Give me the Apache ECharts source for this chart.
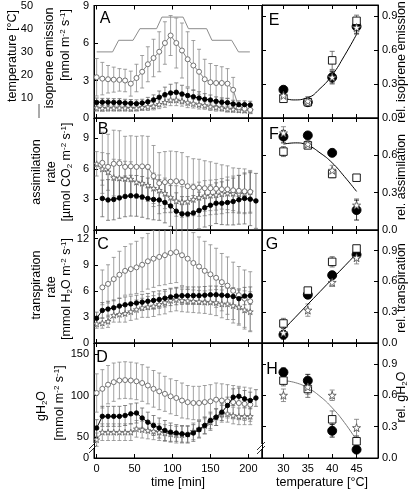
<!DOCTYPE html>
<html><head><meta charset="utf-8">
<script src="https://cdn.jsdelivr.net/npm/echarts@6/dist/echarts.min.js"></script>
<style>html,body{margin:0;padding:0;background:#fff}#c{width:415px;height:491px}</style>
</head><body><div id="c"></div>
<script>
// ---------------- data ----------------
const times = [0,7.5,15,22.5,30,37.5,45,52.5,60,67.5,75,82.5,90,97.5,105,112.5,120,127.5,135,142.5,150,157.5,165,172.5,180,187.5,195,202.5,210];
const timeTicks = [0,50,100,150,200];
// temperature programme (time [min], temperature [°C])
const tempProgram = [[0,30],[21,30],[29,35],[48,35],[57,40],[79,40],[86,45],[114,45],[121,40],[145,40],[152,35],[178,35],[187,30],[202,30]];
const tempTicks = [10,20,30,40,50];

// A: isoprene emission
const openA  = [3.26,3.15,3.1,3.07,3.05,3.0,2.75,3.2,3.7,4.3,4.8,5.3,6.0,6.6,6.0,5.4,4.7,4.2,3.7,3.1,2.86,2.8,2.8,2.75,2.25,0.85,0.75,0.65,null];
const openAe = [1.5,1.3,1.1,1.0,0.9,0.9,1.0,1.1,1.3,1.4,1.5,1.6,1.7,1.6,2.0,2.2,2.2,2.0,1.8,1.6,1.5,1.4,1.3,1.2,1.0,0.3,0.3,0.3,null];
const fillA  = [1.25,1.27,1.27,1.25,1.25,1.2,1.18,1.15,1.2,1.3,1.45,1.66,1.87,2.0,2.06,1.92,1.8,1.7,1.6,1.5,1.44,1.34,1.26,1.23,1.12,1.07,1.07,1.04,null];
const fillAe = [0.35,0.3,0.3,0.3,0.3,0.3,0.3,0.3,0.3,0.35,0.4,0.5,0.6,0.7,0.75,0.7,0.6,0.55,0.5,0.45,0.4,0.35,0.35,0.35,0.3,0.3,0.3,0.3,null];
const starA  = [0.8,0.78,0.8,0.8,0.8,0.8,0.78,0.8,0.85,0.9,0.95,1.1,1.26,1.44,1.44,1.35,1.23,1.15,1.07,1.0,0.9,0.85,0.8,0.72,0.7,0.64,0.62,0.6,null];
const starAe = [0.25,0.25,0.25,0.25,0.25,0.25,0.25,0.25,0.25,0.3,0.3,0.35,0.4,0.45,0.45,0.4,0.4,0.35,0.35,0.3,0.3,0.3,0.25,0.25,0.25,0.2,0.2,0.2,null];
const ticksA = [0,3,6,9];

// B: assimilation
const openB  = [null,6.6,6.2,6.5,6.55,6.2,6.25,6.2,6.25,6.2,5.3,4.6,4.7,4.75,4.8,4.7,4.3,4.2,4.15,4.1,4.1,4.05,4.0,4.0,3.9,3.85,3.8,3.75,null];
const openBe = [null,3.0,3.2,3.3,3.2,3.0,3.0,3.0,3.0,3.0,3.0,3.0,3.0,3.0,2.9,2.9,2.9,2.8,2.8,2.7,2.6,2.5,2.4,2.3,2.2,2.2,2.2,2.1,null];
const fillB  = [null,3.1,2.95,3.0,3.15,3.3,3.37,3.35,3.25,3.1,3.0,2.95,2.7,2.36,1.85,1.58,1.58,1.68,1.92,2.19,2.43,2.63,2.63,2.7,2.8,2.97,3.1,3.03,2.86];
const fillBe = [null,1.8,2.0,2.0,2.0,2.0,2.0,2.0,2.0,2.0,2.0,2.0,2.0,2.0,1.8,1.7,1.7,1.7,1.8,1.9,2.0,2.0,2.1,2.2,2.3,2.4,2.5,2.6,2.7];
const starB  = [6.5,6.0,5.7,5.15,5.1,5.05,5.0,4.7,4.6,4.4,4.1,3.9,3.6,3.2,2.85,2.75,2.8,3.0,3.2,3.35,3.4,3.45,3.55,3.6,3.6,3.55,3.6,3.75,null];
const starBe = [1.2,1.6,1.8,1.8,1.8,1.7,1.7,1.6,1.6,1.6,1.5,1.5,1.5,1.5,1.5,1.5,1.5,1.5,1.5,1.5,1.5,1.5,1.5,1.6,1.7,1.8,1.9,2.0,null];
const ticksB = [0,3,6,9];

// C: transpiration
const openC  = [null,6.4,6.8,7.35,7.85,8.3,8.5,8.7,9.0,9.4,9.7,9.9,10.1,10.35,10.45,10.1,9.7,9.2,8.8,8.3,7.9,7.5,7.0,6.6,6.0,5.5,5.1,4.8,null];
const openCe = [null,2.0,2.2,2.5,2.7,2.8,2.9,3.0,3.1,3.2,3.3,3.3,3.4,3.5,3.5,3.5,3.5,3.5,3.4,3.4,3.4,3.4,3.3,3.3,3.3,3.3,3.3,3.4,null];
const fillC  = [2.85,3.75,3.9,4.05,4.25,4.4,4.5,4.6,4.7,4.8,4.9,5.0,5.15,5.3,5.4,5.45,5.45,5.45,5.45,5.5,5.55,5.55,5.5,5.45,5.35,5.1,5.4,5.45,null];
const fillCe = [0.7,0.9,0.9,0.9,0.9,0.9,0.9,0.9,0.9,0.9,1.0,1.0,1.0,1.0,1.0,1.0,1.0,1.0,1.0,1.0,1.0,1.0,1.0,1.0,1.0,1.0,1.0,1.0,null];
const starC  = [2.2,2.3,2.5,3.2,3.3,3.4,3.6,3.85,4.05,4.15,4.25,4.45,4.65,4.9,5.0,4.9,4.85,4.8,4.75,4.7,4.7,4.65,4.5,4.5,4.3,4.15,3.8,3.6,null];
const starCe = [0.5,0.6,0.7,0.8,0.9,1.0,1.0,1.1,1.1,1.2,1.2,1.2,1.3,1.3,1.3,1.3,1.3,1.3,1.3,1.3,1.4,1.5,1.6,1.8,2.0,2.1,2.2,2.3,null];
const ticksC = [0,3,6,9,12];

// D: stomatal conductance gH2O
const openD  = [103,108,113,116,118,118.5,118,117,115,112,108,105,102,99,97,94,92,91,91,92,93,95,94,93,92,91,90,89,null];
const openDe = [23,23,23,23,22,22,22,22,22,22,22,22,21,21,21,21,20,20,20,20,20,20,20,20,20,20,20,20,null];
const fillD  = [61,75,75,75,75,76,78,79,73,68,64,61,58,56,55,54,53,55,59,64,70,74,80,88,98,99,96,94,97];
const fillDe = [10,12,12,12,12,12,12,12,12,12,12,12,12,11,10,10,10,10,10,10,10,10,10,10,10,10,10,10,10];
const starD  = [47,56,56,56,56,56,56,60,59,58,57,56,55,54,53,53,54,57,60,64,68,74,78,78,76,75,75,75,null];
const starDe = [8,10,10,10,10,10,10,10,10,10,10,10,10,10,10,10,10,10,10,10,10,10,10,10,10,10,10,10,null];
const ticksD = [25,50,100,150];   // 25 is drawn as "0" below the axis break

// E-H: relative values vs. temperature
const temps = [30,35,40,45];
const relTicksX = [30,35,40,45];
const fillE = [0.25,0.14,0.36,0.81], fillEe = [0.03,0.03,0.05,0.06];
const sqE   = [0.17,0.14,0.51,0.86], sqEe   = [0.02,0.03,0.08,0.05];
const starE = [0.2,0.15,0.36,0.8],   starEe = [0.02,0.04,0.06,0.06];
const fitE  = [[30,0.18],[32,0.16],[35,0.18],[37.5,0.26],[40,0.38],[42.5,0.55],[45,0.74]];
const fillF = [0.75,0.76,0.62,0.16], fillFe = [0.05,0.02,0.02,0.08];
const sqF   = [0.63,0.68,0.45,0.42], sqFe   = [0.04,0.02,0.03,0.02];
const starF = [0.78,0.69,0.48,0.2],  starFe = [0.05,0.03,0.04,0.05];
const fitF  = [[30,0.69],[32.5,0.7],[35,0.68],[37.5,0.62],[40,0.54],[42.5,0.43],[45,0.31]];
const fillG = [0.08,0.47,0.66,0.86], fillGe = [0.04,0.03,0.03,0.04];
const sqG   = [0.19,0.51,0.79,0.92], sqGe   = [0.05,0.03,0.05,0.03];
const starG = [0.1,0.32,0.59,0.83],  starGe = [0.04,0.06,0.04,0.06];
const fitG  = [[30,0.13],[45,0.87]];
const fillH = [0.82,0.74,0.26,0.08], fillHe = [0.04,0.06,0.06,0.02];
const sqH   = [0.74,0.66,0.37,0.16], sqHe   = [0.05,0.08,0.08,0.05];
const starH = [0.6,0.68,0.6,0.29],   starHe = [0.06,0.07,0.05,0.08];
const fitH  = [[30,0.74],[32.5,0.72],[35,0.67],[37.5,0.59],[40,0.48],[42.5,0.34],[45,0.17]];
const relTicksE = [0,0.3,0.6,0.9], relTicksF = [0,0.3,0.6], relTicksG = [0,0.3,0.6,0.9], relTicksH = [0,0.3,0.6,0.9];

// ---------------- chart ----------------
const FONT = "'Liberation Sans', Arial, sans-serif";
const STAR = 'path://M0,-10L2.35,-3.24L9.51,-3.09L3.8,1.24L5.88,8.09L0,4L-5.88,8.09L-3.8,1.24L-9.51,-3.09L-2.35,-3.24Z';
const rows = [{top:5,h:113},{top:118,h:112},{top:230,h:113},{top:343,h:115}];
const grid = [];
rows.forEach(r=>grid.push({left:94, top:r.top, width:168, height:r.h, show:true, borderColor:'#000', borderWidth:1, backgroundColor:'transparent'}));
rows.forEach(r=>grid.push({left:262, top:r.top, width:116, height:r.h, show:true, borderColor:'#000', borderWidth:1, backgroundColor:'transparent'}));

const xAxis = [];
for (let g=0; g<8; g++) {
  const left = g<4;
  const ticks = left ? timeTicks : relTicksX;
  ['bottom','top'].forEach(pos=>{
    xAxis.push({type:'value', gridIndex:g, position:pos, min: left?-3.5:25.6, max: left?218:49.4,
      axisLine:{show:true, onZero:false, lineStyle:{color:'#000', width:1}},
      axisTick:{show:true, inside:true, length:4, customValues:ticks, lineStyle:{color:'#000'}},
      axisLabel:{show: pos==='bottom' && (g===3||g===7), customValues:ticks, color:'#000', fontSize:11, margin:5, fontFamily:FONT},
      splitLine:{show:false}});
  });
}
const leftCfg = [[0,9,ticksA],[0,11,ticksB],[0,13,ticksC],[25,163,ticksD]];
const rightCfg = [[0,1.0,relTicksE],[0,0.9,relTicksF],[0,1.1,relTicksG],[0,1.1,relTicksH]];
const yAxis = [];
leftCfg.forEach((c,g)=>yAxis.push({type:'value', gridIndex:g, position:'left', min:c[0], max:c[1],
  axisLine:{show:true, onZero:false, lineStyle:{color:'#000'}},
  axisTick:{show:true, inside:true, length:4, customValues:c[2], lineStyle:{color:'#000'}},
  axisLabel:{show:true, customValues:c[2], color:'#000', fontSize:11, margin:5, fontFamily:FONT, formatter: v => (g===3 && v===25) ? '0' : String(v)},
  splitLine:{show:false}}));
rightCfg.forEach((c,k)=>yAxis.push({type:'value', gridIndex:4+k, position:'right', min:c[0], max:c[1],
  axisLine:{show:true, onZero:false, lineStyle:{color:'#000'}},
  axisTick:{show:true, inside:true, length:4, customValues:c[2], lineStyle:{color:'#000'}},
  axisLabel:{show:true, customValues:c[2], color:'#000', fontSize:11, margin:4, fontFamily:FONT, formatter: v => v.toFixed(1)},
  splitLine:{show:false}}));
rightCfg.forEach((c,k)=>yAxis.push({type:'value', gridIndex:4+k, position:'left', min:c[0], max:c[1],
  axisLine:{show:true, onZero:false, lineStyle:{color:'#000'}},
  axisTick:{show:true, inside:true, length:4, customValues:c[2], lineStyle:{color:'#000'}},
  axisLabel:{show:false}, splitLine:{show:false}}));
// temperature axis for panel A (index 12)
yAxis.push({type:'value', gridIndex:0, position:'left', offset:55, min:1.5, max:50,
  axisLine:{show:false}, axisTick:{show:false},
  axisLabel:{show:true, customValues:tempTicks, color:'#000', fontSize:11, margin:6, fontFamily:FONT},
  splitLine:{show:false}});

const series = [];
function pairs(xs, ys){ return xs.map((x,i)=>[x, ys[i]]); }
function errBars(g, yIdx, xs, ys, es, color, cap){
  const data = [];
  xs.forEach((x,i)=>{ if (ys[i]!=null && es[i]!=null) data.push([x, ys[i]-es[i], ys[i]+es[i]]); });
  series.push({type:'custom', xAxisIndex:2*g, yAxisIndex:yIdx, data, z:1, silent:true, clip:true,
    encode:{x:0, y:[1,2]},
    renderItem:(p, api)=>{
      const x=api.value(0), a=api.coord([x, api.value(2)]), b=api.coord([x, api.value(1)]);
      const st={stroke:color, lineWidth:0.8};
      return {type:'group', children:[
        {type:'line', shape:{x1:a[0],y1:a[1],x2:b[0],y2:b[1]}, style:st},
        {type:'line', shape:{x1:a[0]-cap,y1:a[1],x2:a[0]+cap,y2:a[1]}, style:st},
        {type:'line', shape:{x1:b[0]-cap,y1:b[1],x2:b[0]+cap,y2:b[1]}, style:st}]};
    }});
}
function ln(g, yIdx, data, sym, size, fill, stroke, lineColor, showLine, z){
  series.push({type:'line', xAxisIndex:2*g, yAxisIndex:yIdx, data, symbol:sym, symbolSize:size, z:z||3,
    lineStyle:{color:lineColor, width: showLine?1:0, opacity: showLine?1:0}, connectNulls:false,
    itemStyle:{color:fill, borderColor:stroke, borderWidth:0.9}, silent:true});
}
// left panels
const L = [
  [openA,openAe,fillA,fillAe,starA,starAe],
  [openB,openBe,fillB,fillBe,starB,starBe],
  [openC,openCe,fillC,fillCe,starC,starCe],
  [openD,openDe,fillD,fillDe,starD,starDe]];
L.forEach((s,g)=>{
  errBars(g, g, times, s[4], s[5], '#8a8a8a', 2);
  errBars(g, g, times, s[0], s[1], '#8a8a8a', 2);
  errBars(g, g, times, s[2], s[3], '#6a6a6a', 2);
  ln(g, g, pairs(times, s[4]), STAR, 6, '#fff', '#666', '#888', true, 3);
  ln(g, g, pairs(times, s[0]), 'circle', 5, '#fff', '#666', '#888', true, 4);
  ln(g, g, pairs(times, s[2]), 'circle', 4.5, '#000', '#000', '#000', true, 5);
});
// temperature programme in panel A
series.push({type:'line', xAxisIndex:0, yAxisIndex:12, data:tempProgram, symbol:'none', z:2,
  lineStyle:{color:'#8c8c8c', width:1}, silent:true});

// right panels
const R = [
  [fillE,fillEe,sqE,sqEe,starE,starEe,fitE,'#000'],
  [fillF,fillFe,sqF,sqFe,starF,starFe,fitF,'#000'],
  [fillG,fillGe,sqG,sqGe,starG,starGe,fitG,'#000'],
  [fillH,fillHe,sqH,sqHe,starH,starHe,fitH,'#7a7a7a']];
R.forEach((s,k)=>{
  const g=4+k, y=4+k;
  errBars(g, y, temps, s[4], s[5], '#777', 2.5);
  errBars(g, y, temps, s[2], s[3], '#555', 2.5);
  errBars(g, y, temps, s[0], s[1], '#000', 2.5);
  series.push({type:'line', xAxisIndex:2*g, yAxisIndex:y, data:s[6], symbol:'none', smooth:true, z:2,
    lineStyle:{color:s[7], width:1}, silent:true});
  ln(g, y, pairs(temps, s[0]), 'circle', 9, '#000', '#000', '#000', false, 4);
  ln(g, y, pairs(temps, s[2]), 'rect', 7.5, '#fff', '#000', '#000', false, 5);
  ln(g, y, pairs(temps, s[4]), STAR, 8, '#fff', '#555', '#555', false, 6);
});

// ---------------- texts ----------------
const rich = {
  a:{fontSize:12.5, fontFamily:FONT, fill:'#000', color:'#000'},
  sup:{fontSize:8, fontFamily:FONT, color:'#000', verticalAlign:'top', lineHeight:14},
  sub:{fontSize:8, fontFamily:FONT, color:'#000', verticalAlign:'bottom', lineHeight:14}
};
function vtext(x, y, text){
  return {type:'text', x, y, rotation:Math.PI/2, silent:true,
    style:{text, rich, align:'center', verticalAlign:'middle', fontSize:12.5, fontFamily:FONT, fill:'#000'}};
}
function htext(x, y, text, size){
  return {type:'text', x, y, silent:true,
    style:{text, align:'center', verticalAlign:'middle', fontSize:size||12.5, fontFamily:FONT, fill:'#000'}};
}
const graphic = [
  vtext(13, 56, '{a|temperature [°C]}'),
  vtext(50, 58, '{a|isoprene emission}'),
  vtext(66, 45, '{a|[nmol m}{sup|-2}{a| s}{sup|-1}{a|]}'),
  vtext(37, 172, '{a|assimilation}'),
  vtext(52, 172, '{a|rate}'),
  vtext(67, 172, '{a|[µmol CO}{sub|2}{a| m}{sup|-2}{a| s}{sup|-1}{a|]}'),
  vtext(37, 285, '{a|transpiration}'),
  vtext(52, 287, '{a|rate}'),
  vtext(67, 289, '{a|[mmol H}{sub|2}{a|O m}{sup|-2}{a| s}{sup|-1}{a|]}'),
  vtext(42, 406, '{a|gH}{sub|2}{a|O}'),
  vtext(60, 403, '{a|[mmol m}{sup|-2}{a| s}{sup|-1}{a|]}'),
  vtext(402, 62, '{a|rel. isoprene emission}'),
  vtext(402, 177, '{a|rel. assimilation}'),
  vtext(402, 288, '{a|rel. transpiration}'),
  vtext(402, 397, '{a|rel. gH}{sub|2}{a|O}'),
  htext(178, 483, 'time [min]'),
  htext(322, 483, 'temperature [°C]'),
  htext(105, 19, 'A', 16), htext(103, 130, 'B', 16), htext(103, 245, 'C', 16), htext(102, 358, 'D', 16),
  htext(274, 21, 'E', 16), htext(274, 135, 'F', 16), htext(272, 245, 'G', 16), htext(272, 370, 'H', 16),
  // short temperature-axis line
  {type:'line', shape:{x1:39, y1:104, x2:39, y2:118}, style:{stroke:'#555', lineWidth:1}},
  // axis break marks
  {type:'rect', shape:{x:91, y:443, width:6, height:5}, style:{fill:'#fff'}},
  {type:'line', shape:{x1:89, y1:449, x2:97, y2:441}, style:{stroke:'#000', lineWidth:0.8}},
  {type:'line', shape:{x1:89, y1:453, x2:97, y2:445}, style:{stroke:'#000', lineWidth:0.8}},
  {type:'rect', shape:{x:259, y:444, width:6, height:5}, style:{fill:'#fff'}},
  {type:'line', shape:{x1:257, y1:450, x2:265, y2:442}, style:{stroke:'#000', lineWidth:0.8}},
  {type:'line', shape:{x1:257, y1:454, x2:265, y2:446}, style:{stroke:'#000', lineWidth:0.8}}
];

const chart = echarts.init(document.getElementById('c'), null, {renderer:'canvas'});
chart.setOption({animation:false, backgroundColor:'#fff', textStyle:{fontFamily:FONT},
  grid, xAxis, yAxis, series, graphic});
</script></body></html>
